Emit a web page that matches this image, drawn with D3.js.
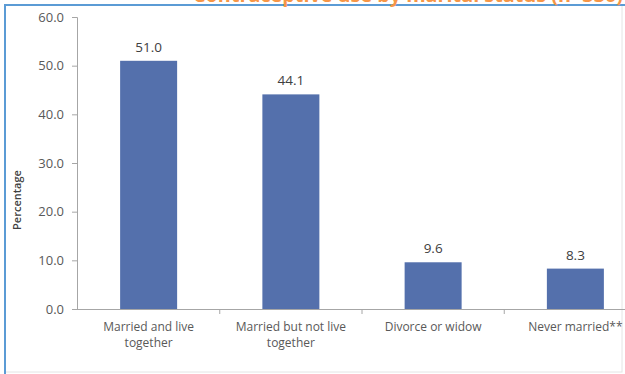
<!DOCTYPE html>
<html><head><meta charset="utf-8">
<script src="https://cdn.jsdelivr.net/npm/d3@7/dist/d3.min.js"></script>
<style>
html,body{margin:0;padding:0;background:#fff;}
svg{display:block;font-family:"Open Sans","Noto Sans",sans-serif;}
</style></head>
<body>
<script>
const categories = [["Married and live","together"],["Married but not live","together"],["Divorce or widow"],["Never married**"]];
const values = [51.0, 44.1, 9.6, 8.3];
const yTicks = [0,10,20,30,40,50,60];
const titleText = "Contraceptive use by marital status (n=330)";
const yLabel = "Percentage";

const W = 625, H = 374;
const svg = d3.select("body").append("svg").attr("width", W).attr("height", H);

// frame
svg.append("rect").attr("x",5).attr("y",5).attr("width",617).attr("height",367)
  .attr("fill","#fff").attr("stroke","#e4e4e4").attr("stroke-width",1);
svg.append("line").attr("x1",4).attr("x2",625).attr("y1",5).attr("y2",5).attr("stroke","#5b9bd5").attr("stroke-width",2);
svg.append("line").attr("x1",5).attr("x2",5).attr("y1",4).attr("y2",374).attr("stroke","#5b9bd5").attr("stroke-width",2);

// cut-off title (only its lower edge shows, as in the reference)
svg.append("text").attr("x",193).attr("y",2).attr("fill","#f79646")
  .attr("font-size",20).attr("font-weight","bold")
  .attr("textLength",430).attr("lengthAdjust","spacingAndGlyphs")
  .text(titleText);

const xb = d3.scaleBand().domain(d3.range(categories.length)).range([77.5, 646.5]);
const y = d3.scaleLinear().domain([0,60]).range([309,17]);

// y axis
const yAxis = svg.append("g").attr("transform","translate(77,0)")
  .call(d3.axisLeft(y).tickValues(yTicks).tickFormat(d3.format(".1f")).tickSize(5).tickPadding(8));
yAxis.select(".domain").attr("stroke","#a6a6a6").attr("d","M-5,17.5H0.5V309.5");
yAxis.selectAll(".tick line").attr("stroke","#a6a6a6");
yAxis.selectAll(".tick text").attr("fill","#595959").attr("font-size",13).attr("font-family","'Open Sans',sans-serif");

// x axis
svg.append("line").attr("x1",77).attr("x2",646).attr("y1",309.5).attr("y2",309.5).attr("stroke","#a6a6a6");
svg.append("g").selectAll("line").data(d3.range(1,categories.length+1)).join("line")
  .attr("x1",d=>xb.range()[0]+d*xb.bandwidth()).attr("x2",d=>xb.range()[0]+d*xb.bandwidth())
  .attr("y1",309.5).attr("y2",314).attr("stroke","#a6a6a6");

// bars
svg.append("g").selectAll("rect").data(values).join("rect")
  .attr("x",(d,i)=>xb(i)+xb.bandwidth()/2-28.5).attr("width",57)
  .attr("y",d=>y(d)).attr("height",d=>y(0)-y(d)).attr("fill","#5470ac");

// value labels
svg.append("g").selectAll("text").data(values).join("text")
  .attr("x",(d,i)=>xb(i)+xb.bandwidth()/2).attr("y",d=>y(d)-9)
  .attr("text-anchor","middle").attr("fill","#404040").attr("font-size",13.5)
  .text(d=>d.toFixed(1));

// category labels
const cl = svg.append("g").selectAll("text").data(categories).join("text")
  .attr("text-anchor","middle").attr("fill","#595959").attr("font-size",12)
  .attr("x",(d,i)=>xb(i)+xb.bandwidth()/2).attr("y",331);
cl.selectAll("tspan").data(d=>d).join("tspan")
  .attr("x",function(){return d3.select(this.parentNode).attr("x");})
  .attr("dy",(d,j)=>j===0?0:16).text(d=>d);

// y label
svg.append("text").attr("transform","translate(21,200) rotate(-90)")
  .attr("text-anchor","middle").attr("fill","#404040").attr("font-size",11).attr("font-weight",600)
  .text(yLabel);
</script>
</body></html>
